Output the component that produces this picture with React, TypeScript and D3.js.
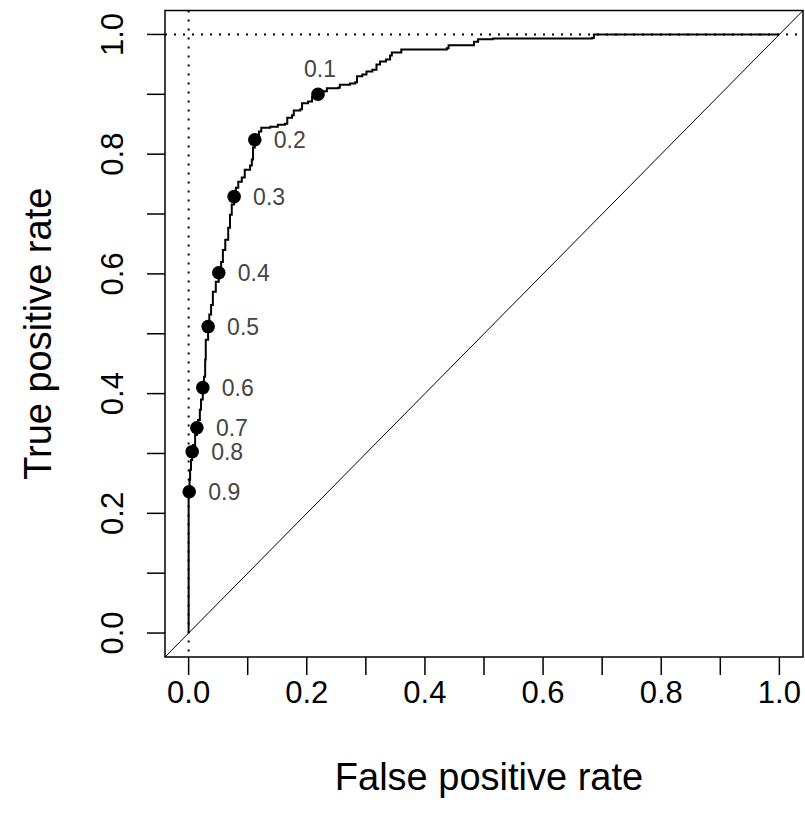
import React from "react";
import * as d3 from "d3";

// ROC curve vertices (false positive rate, true positive rate)
const rocFpr = [
  0, 0, 0.0015, 0.0025, 0.004, 0.006, 0.0075, 0.011, 0.014, 0.016, 0.019, 0.021, 0.024,
  0.026, 0.028, 0.029, 0.033, 0.035, 0.038, 0.041, 0.046, 0.051, 0.055, 0.058, 0.062,
  0.067, 0.07, 0.073, 0.077, 0.08, 0.084, 0.09, 0.095, 0.104, 0.107, 0.109, 0.112,
  0.119, 0.123, 0.138, 0.151, 0.163, 0.167, 0.175, 0.178, 0.189, 0.192, 0.202, 0.209,
  0.219, 0.226, 0.234, 0.253, 0.256, 0.273, 0.282, 0.285, 0.294, 0.301, 0.311, 0.318,
  0.324, 0.334, 0.341, 0.344, 0.358, 0.36, 0.437, 0.44, 0.48, 0.483, 0.49, 0.515,
  0.683, 0.686, 1,
];
const rocTpr = [
  0, 0.236, 0.256, 0.273, 0.289, 0.303, 0.314, 0.331, 0.343, 0.356, 0.373, 0.39, 0.41,
  0.428, 0.457, 0.49, 0.512, 0.532, 0.548, 0.57, 0.587, 0.602, 0.62, 0.64, 0.657,
  0.677, 0.699, 0.716, 0.729, 0.744, 0.754, 0.761, 0.774, 0.781, 0.791, 0.811, 0.824,
  0.838, 0.844, 0.846, 0.849, 0.851, 0.861, 0.865, 0.873, 0.875, 0.885, 0.888, 0.896,
  0.9, 0.905, 0.91, 0.911, 0.916, 0.918, 0.92, 0.93, 0.933, 0.938, 0.941, 0.95,
  0.955, 0.958, 0.965, 0.97, 0.97, 0.975, 0.977, 0.982, 0.982, 0.988, 0.992, 0.9933,
  0.994, 1, 1,
];

// Cutoff markers
const cutoffLabels = ["0.1", "0.2", "0.3", "0.4", "0.5", "0.6", "0.7", "0.8", "0.9"];
const cutoffFpr = [0.219, 0.112, 0.077, 0.051, 0.033, 0.024, 0.014, 0.006, 0.001];
const cutoffTpr = [0.9, 0.824, 0.729, 0.602, 0.512, 0.41, 0.343, 0.303, 0.236];

const majorTicks = [0, 0.2, 0.4, 0.6, 0.8, 1.0];
const majorTickLabels = ["0.0", "0.2", "0.4", "0.6", "0.8", "1.0"];
const minorTicks = [0.1, 0.3, 0.5, 0.7, 0.9];

const xTitle = "False positive rate";
const yTitle = "True positive rate";

const W = 805;
const H = 824;
const box = { left: 165, right: 803, top: 10.5, bottom: 657 };
const FONT = "'Liberation Sans', Arial, sans-serif";

export default function App() {
  const x = d3.scaleLinear().domain([-0.04, 1.04]).range([box.left, box.right]);
  const y = d3.scaleLinear().domain([-0.04, 1.04]).range([box.bottom, box.top]);

  const pts: [number, number][] = rocFpr.map((f, i) => [f, rocTpr[i]]);
  const line = d3
    .line<[number, number]>()
    .x((d) => x(d[0]))
    .y((d) => y(d[1]))
    .curve(d3.curveStepAfter);
  const rocPath = line(pts) || "";

  const allTicks = [...majorTicks, ...minorTicks];

  return (
    <svg
      width={W}
      height={H}
      style={{ position: "absolute", left: 0, top: 0, display: "block", background: "#fff" }}
      fontFamily={FONT}
    >
      <rect x={0} y={0} width={W} height={H} fill="#fff" />
      {/* reference dotted lines */}
      <line
        x1={box.left}
        x2={box.right}
        y1={y(1)}
        y2={y(1)}
        stroke="#000"
        strokeWidth={2}
        strokeDasharray="2,7"
      />
      <line
        x1={x(0)}
        x2={x(0)}
        y1={box.top}
        y2={box.bottom}
        stroke="#000"
        strokeWidth={2}
        strokeDasharray="2,7"
      />
      {/* diagonal */}
      <line
        x1={x(-0.04)}
        y1={y(-0.04)}
        x2={x(1.04)}
        y2={y(1.04)}
        stroke="#000"
        strokeWidth={1}
      />
      {/* ROC curve */}
      <path d={rocPath} fill="none" stroke="#000" strokeWidth={2} />
      {/* cutoff points */}
      {cutoffLabels.map((lab, i) => {
        const cx = x(cutoffFpr[i]);
        const cy = y(cutoffTpr[i]);
        const above = i === 0;
        return (
          <g key={lab}>
            <circle cx={cx} cy={cy} r={6.8} fill="#000" />
            <text
              x={above ? cx + 2 : cx + 19}
              y={above ? cy - 25 : cy}
              fontSize={23}
              fill="#444"
              textAnchor={above ? "middle" : "start"}
              dominantBaseline="central"
            >
              {lab}
            </text>
          </g>
        );
      })}
      {/* box */}
      <rect
        x={box.left}
        y={box.top}
        width={box.right - box.left}
        height={box.bottom - box.top}
        fill="none"
        stroke="#000"
        strokeWidth={1.5}
      />
      {/* x axis ticks */}
      {allTicks.map((t) => (
        <line
          key={"xt" + t}
          x1={x(t)}
          x2={x(t)}
          y1={box.bottom}
          y2={box.bottom + 18}
          stroke="#000"
          strokeWidth={1.5}
        />
      ))}
      {majorTicks.map((t, i) => (
        <text
          key={"xl" + t}
          x={x(t)}
          y={692}
          fontSize={31}
          textAnchor="middle"
          dominantBaseline="central"
          fill="#000"
        >
          {majorTickLabels[i]}
        </text>
      ))}
      {/* y axis ticks */}
      {allTicks.map((t) => (
        <line
          key={"yt" + t}
          x1={box.left - 18}
          x2={box.left}
          y1={y(t)}
          y2={y(t)}
          stroke="#000"
          strokeWidth={1.5}
        />
      ))}
      {majorTicks.map((t, i) => (
        <text
          key={"yl" + t}
          transform={`translate(112, ${y(t)}) rotate(-90)`}
          fontSize={31}
          textAnchor="middle"
          dominantBaseline="central"
          fill="#000"
        >
          {majorTickLabels[i]}
        </text>
      ))}
      {/* titles */}
      <text
        x={(box.left + box.right) / 2 + 5}
        y={777}
        fontSize={38}
        textAnchor="middle"
        dominantBaseline="central"
        fill="#000"
      >
        {xTitle}
      </text>
      <text
        transform={`translate(38, ${(box.top + box.bottom) / 2}) rotate(-90)`}
        fontSize={38}
        textAnchor="middle"
        dominantBaseline="central"
        fill="#000"
      >
        {yTitle}
      </text>
    </svg>
  );
}
